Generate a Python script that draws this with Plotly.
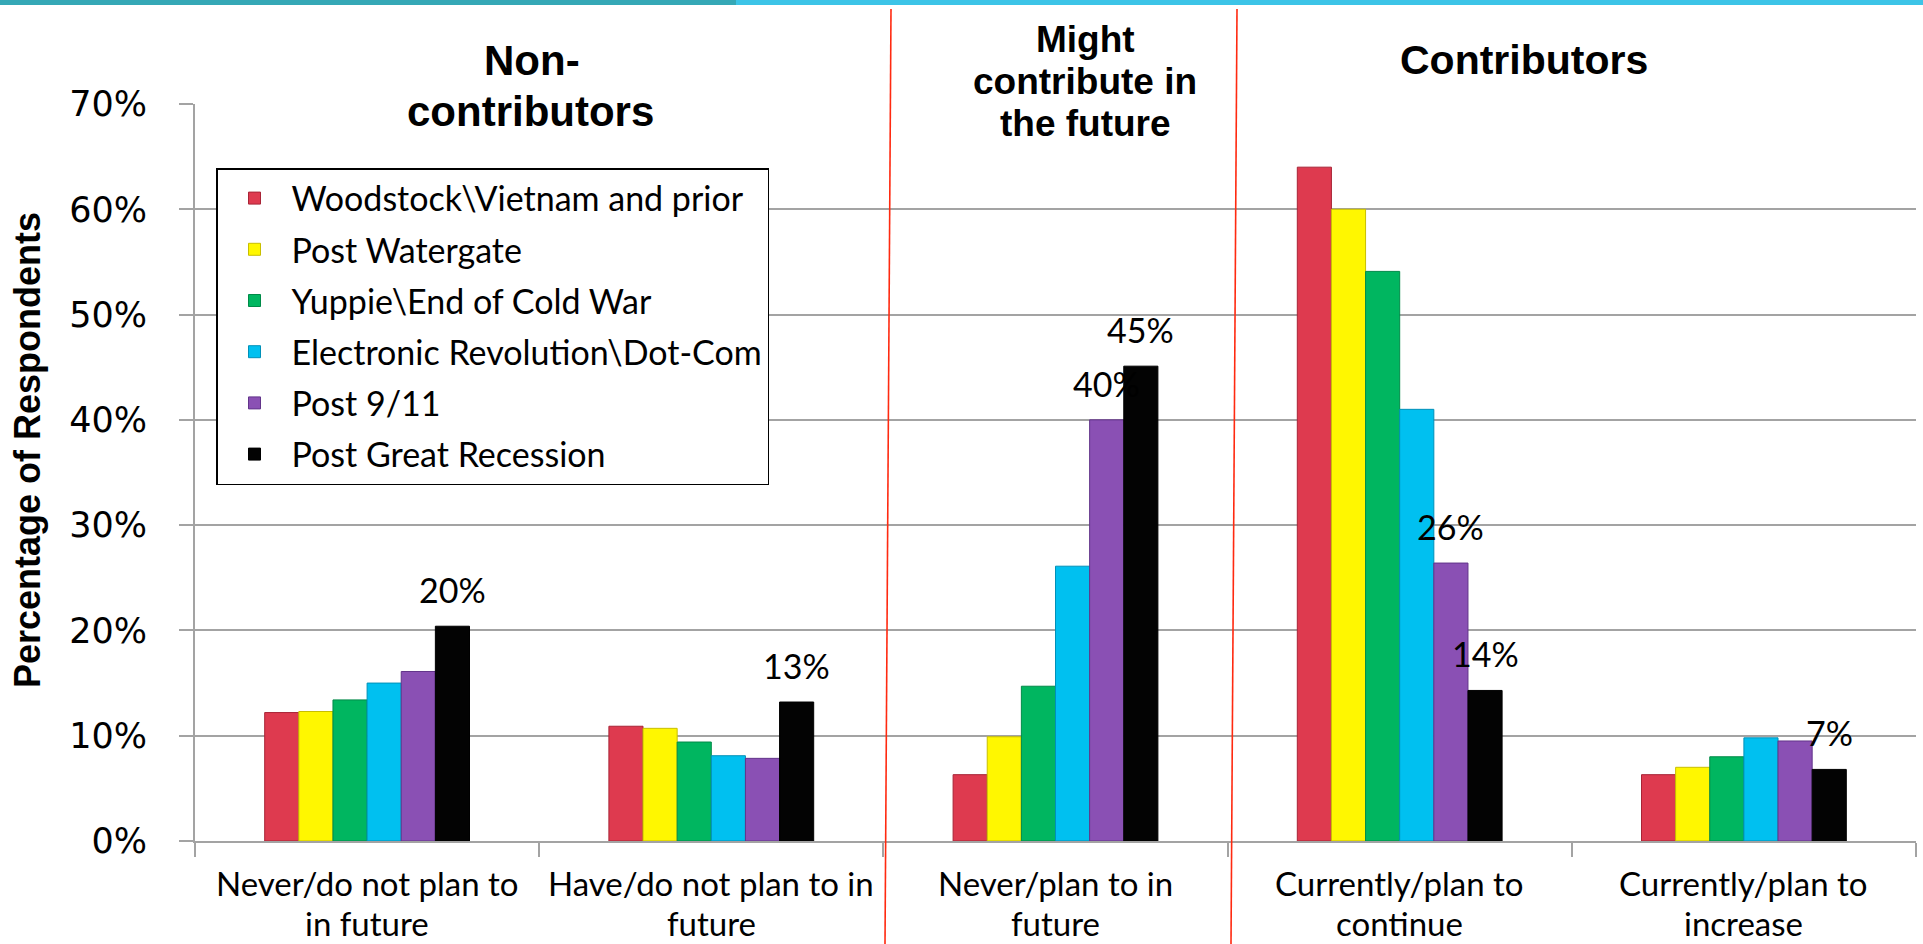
import plotly.graph_objects as go

# Response categories (x axis), each label split over two lines
category_lines = [
    ("Never/do not plan to", "in future"),
    ("Have/do not plan to in", "future"),
    ("Never/plan to in", "future"),
    ("Currently/plan to", "continue"),
    ("Currently/plan to", "increase"),
]
categories = [f"{a} {b}" for a, b in category_lines]

# Generations (series)
series_names = [
    "Woodstock\\Vietnam and prior",
    "Post Watergate",
    "Yuppie\\End of Cold War",
    "Electronic Revolution\\Dot-Com",
    "Post 9/11",
    "Post Great Recession",
]
series_colors = ["#DE3A4F", "#FFF700", "#00B660", "#00C0F0", "#8A50B4", "#030303"]
edge_colors = ["#A82436", "#C8BE00", "#008A48", "#0090B8", "#62348A", "#000000"]

# Share of respondents per category, one list per generation
woodstock = [0.122, 0.109, 0.063, 0.640, 0.063]
watergate = [0.123, 0.107, 0.099, 0.600, 0.070]
yuppie = [0.134, 0.094, 0.147, 0.541, 0.080]
dotcom = [0.150, 0.081, 0.261, 0.410, 0.098]
post911 = [0.161, 0.0785, 0.400, 0.264, 0.095]
recession = [0.204, 0.132, 0.451, 0.143, 0.068]
series_values = [woodstock, watergate, yuppie, dotcom, post911, recession]

# Which bars carry a value label
label_flags = [
    [False] * 5,
    [False] * 5,
    [False] * 5,
    [False] * 5,
    [False, False, True, True, False],
    [True, True, True, True, True],
]

y_ticks = [0, 0.1, 0.2, 0.3, 0.4, 0.5, 0.6, 0.7]

W, H = 1923, 944
ML, MR, MT, MB = 195, 7, 104, 103
PW, PH = W - ML - MR, H - MT - MB
BARGAP = 0.405

body_font = "Lato, Calibri, sans-serif"


def px_x(px):
    return (px - ML) / PW


def px_y(py):
    return (H - MB - py) / PH


fig = go.Figure()
for name, vals, col, edge in zip(series_names, series_values, series_colors, edge_colors):
    fig.add_trace(go.Bar(
        name=name,
        x=categories,
        y=vals,
        marker=dict(color=col, line=dict(color=edge, width=1)),
        legendgroup=name,
    ))

# Value labels above the flagged bars, centred on each bar of the group
n_series = len(series_names)
slot = (1 - BARGAP) / n_series
for s, (vals, flags) in enumerate(zip(series_values, label_flags)):
    for c, (v, f) in enumerate(zip(vals, flags)):
        if not f:
            continue
        fig.add_annotation(
            x=c + (s - (n_series - 1) / 2) * slot, y=v, xref="x", yref="y",
            text=f"{v:.0%}", showarrow=False, yanchor="bottom", yshift=14,
            font=dict(family=body_font, size=34, color="#000"),
        )

grid_col = "#A3A3A3"
fig.update_layout(
    width=W, height=H,
    margin=dict(l=ML, r=MR, t=MT, b=MB),
    paper_bgcolor="white", plot_bgcolor="white",
    barmode="group", bargap=BARGAP, bargroupgap=0,
    showlegend=True,
    legend=dict(
        x=px_x(216), y=px_y(168), xanchor="left", yanchor="top",
        bgcolor="white", bordercolor="#000", borderwidth=1.5,
        font=dict(family=body_font, size=34, color="#000"),
        tracegroupgap=4, itemwidth=64,
    ),
    xaxis=dict(
        showline=True, linecolor=grid_col, linewidth=2,
        ticks="outside", tickson="boundaries", ticklen=14, tickcolor=grid_col, tickwidth=2,
        showticklabels=False, showgrid=False,
    ),
    yaxis=dict(
        range=[0, 0.7], tickvals=y_ticks, tickformat=".0%",
        showline=True, linecolor=grid_col, linewidth=2,
        ticks="outside", ticklen=14, tickcolor=grid_col, tickwidth=2,
        showgrid=True, gridcolor=grid_col, gridwidth=2, zeroline=False,
        tickfont=dict(family="DejaVu Sans, Verdana, sans-serif", size=35, color="#000"),
        ticklabelstandoff=25,
    ),
)

# Category labels under the axis, one annotation per line
for cat, (l1, l2) in zip(categories, category_lines):
    for txt, py in ((l1, 883), (l2, 923)):
        fig.add_annotation(text=txt, x=cat, xref="x", y=px_y(py), yref="paper",
                           xanchor="center", yanchor="middle", showarrow=False,
                           font=dict(family=body_font, size=33, color="#000"))

# Header band across the top of the slide
fig.add_shape(type="rect", xref="paper", yref="paper",
              x0=px_x(0), x1=px_x(736), y0=px_y(5), y1=px_y(0),
              fillcolor="#35A8B6", line_width=0, layer="above")
fig.add_shape(type="rect", xref="paper", yref="paper",
              x0=px_x(736), x1=px_x(1923), y0=px_y(5), y1=px_y(0),
              fillcolor="#3CC4E7", line_width=0, layer="above")

# Red dividers between respondent groups
for xt, xb in [(891, 885), (1237, 1231)]:
    fig.add_shape(type="line", xref="paper", yref="paper",
                  x0=px_x(xt), y0=px_y(9), x1=px_x(xb), y1=px_y(944),
                  line=dict(color="#FF2A10", width=1.6), layer="above")

# Group headings
title_family = "Liberation Sans, Arial, sans-serif"
headings = [
    ("<b>Non-</b>", 532, 61, 42),
    ("<b>contributors</b>", 530, 112, 42),
    ("<b>Might</b>", 1085, 40, 37),
    ("<b>contribute in</b>", 1085, 82, 37),
    ("<b>the future</b>", 1085, 124, 37),
    ("<b>Contributors</b>", 1524, 60, 41),
]
for txt, cx, cy, fs in headings:
    fig.add_annotation(text=txt, xref="paper", yref="paper",
                       x=px_x(cx), y=px_y(cy), xanchor="center", yanchor="middle",
                       showarrow=False, font=dict(family=title_family, size=fs, color="#000"))

# Y axis title
fig.add_annotation(text="<b>Percentage of Respondents</b>", xref="paper", yref="paper",
                   x=px_x(27), y=px_y(450), xanchor="center", yanchor="middle",
                   textangle=-90, showarrow=False,
                   font=dict(family="Liberation Sans Narrow, Liberation Sans, Arial, sans-serif",
                             size=36, color="#000"))

fig.write_html("out.html")
